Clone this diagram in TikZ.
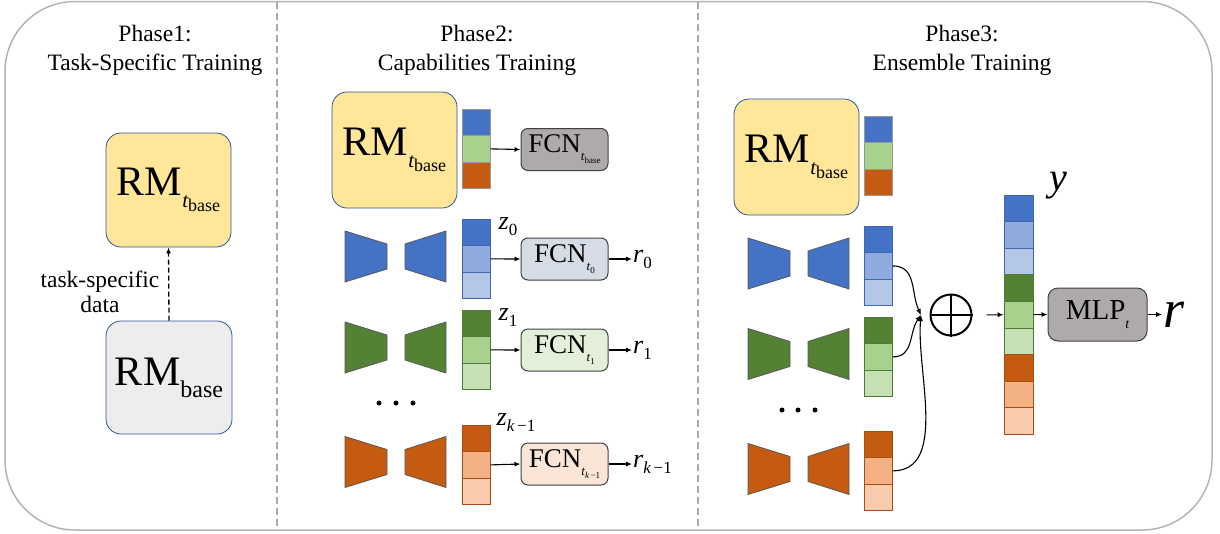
\documentclass[tikz,border=0pt]{standalone}
\usepackage{fontspec}
\setmainfont{LiberationSerif-Regular.ttf}[BoldFont=LiberationSerif-Bold.ttf, ItalicFont=LiberationSerif-Italic.ttf, BoldItalicFont=LiberationSerif-BoldItalic.ttf]
\usetikzlibrary{arrows.meta}
\definecolor{rmyel}{HTML}{FFE699}
\definecolor{rmgray}{HTML}{EDEDED}
\definecolor{rmbord}{HTML}{2F5597}
\definecolor{fcngray}{HTML}{AEAAAA}
\definecolor{fcnblue}{HTML}{D6DCE5}
\definecolor{fcngreen}{HTML}{E2F0D9}
\definecolor{fcnorange}{HTML}{FBE5D6}
\definecolor{bA}{HTML}{4472C4}
\definecolor{bB}{HTML}{8FAADC}
\definecolor{bC}{HTML}{B4C7E7}
\definecolor{gA}{HTML}{548235}
\definecolor{gB}{HTML}{A9D18E}
\definecolor{gC}{HTML}{C5E0B4}
\definecolor{oA}{HTML}{C55A11}
\definecolor{oB}{HTML}{F4B183}
\definecolor{oC}{HTML}{F8CBAD}
\definecolor{bBord}{HTML}{3F66B0}
\definecolor{gBord}{HTML}{4F7A33}
\definecolor{oBord}{HTML}{A84E14}
\definecolor{frame}{HTML}{B4B4B4}
\definecolor{divgray}{HTML}{AAAAAA}

\newcommand\rmtb{\fontsize{42}{42}\selectfont RM\raisebox{-12pt}{\fontsize{21}{21}\selectfont\itshape t}\raisebox{-16pt}{\fontsize{18}{18}\selectfont base}}
\newcommand\rmb{\fontsize{42}{42}\selectfont RM\raisebox{-12pt}{\fontsize{24}{24}\selectfont base}}
\newcommand\fcnlab[1]{\fontsize{27}{27}\selectfont FCN\raisebox{-8pt}{\fontsize{13}{13}\selectfont\itshape t}\raisebox{-11pt}{\fontsize{9}{9}\selectfont #1}}
\newcommand\varsub[2]{\fontsize{26}{26}\selectfont\itshape #1\raisebox{-6pt}{\fontsize{17}{17}\selectfont\upshape #2}}

\newcommand\encdec[3]{%
 \filldraw[trap, fill=#3] (#1,{#2-25.5}) -- ({#1+42},{#2-12.5}) -- ({#1+42},{#2+12.5}) -- (#1,{#2+25.5}) -- cycle;
 \filldraw[trap, fill=#3] ({#1+60},{#2-12.5}) -- ({#1+101},{#2-25.5}) -- ({#1+101},{#2+25.5}) -- ({#1+60},{#2+12.5}) -- cycle;}

\newcommand\vbar[7]{%
 \node[cell, draw=#7, fill=#4] (#1a) at (#2,{#3+13.3}) {};
 \node[cell, draw=#7, fill=#5] (#1b) at (#2,{#3+39.9}) {};
 \node[cell, draw=#7, fill=#6] (#1c) at (#2,{#3+66.5}) {};}

\begin{document}
\begin{tikzpicture}[x=1pt,y=-1pt,
  rmbox/.style={draw=rmbord, line width=0.8pt, rounded corners=15pt, minimum width=125pt, minimum height=115pt, inner sep=0pt},
  fcnbox/.style={draw=black!75, line width=1pt, rounded corners=7pt, minimum width=87pt, minimum height=42pt, inner sep=0pt},
  cell/.style={line width=1pt, minimum width=28pt, minimum height=26.6pt, inner sep=0pt},
  trap/.style={draw=black!65, line width=0.8pt},
  arr/.style={-{Latex[length=6pt,width=5pt]}, line width=1.1pt},
  title/.style={align=center, font=\fontsize{23.5}{29}\selectfont},
  dot/.style={circle, fill=black, minimum size=5pt, inner sep=0pt}]
\useasboundingbox (0,0) rectangle (1220,533);

% frame and dividers
\draw[frame, line width=1.5pt, rounded corners=70pt] (5,1.5) rectangle (1212,530);
\coordinate (dv1t) at (277,2); \coordinate (dv1b) at (277,529);
\coordinate (dv2t) at (698,2); \coordinate (dv2b) at (698,529);
\draw[divgray, line width=1.6pt, dash pattern=on 7pt off 4pt] (dv1t) -- (dv1b);
\draw[divgray, line width=1.6pt, dash pattern=on 7pt off 4pt] (dv2t) -- (dv2b);

% titles
\node[title] (t1) at (155,50) {Phase1:\\Task-Specific Training};
\node[title] (t2) at (477,50) {Phase2:\\Capabilities Training};
\node[title] (t3) at (962,50) {Phase3:\\Ensemble Training};

% Phase 1
\node[rmbox, fill=rmyel, minimum height=114pt] (p1t) at (168.5,190) {\rmtb};
\node[rmbox, fill=rmgray, minimum width=126pt, minimum height=113pt] (p1b) at (169,377.5) {\rmb};
\draw[-{Latex[length=6pt,width=5pt]}, line width=1.3pt, dash pattern=on 5pt off 3pt] (p1b.north) -- (p1t.south);
\node[align=center, font=\fontsize{23.5}{25}\selectfont] (tsd) at (100,292) {task-specific\\data};

% Phase 2
\node[rmbox, fill=rmyel, minimum height=116pt] (p2rm) at (394.5,150) {\rmtb};
\vbar{p2t}{476}{109}{bA}{gB}{oA}{black!40}
\node[fcnbox, fill=fcngray] (f2t) at (564.5,149.5) {\fcnlab{base}};
\draw[arr] (p2tb.east) -- (f2t.west);

\encdec{345}{256.5}{bA}
\vbar{p20}{476}{219}{bA}{bB}{bC}{bBord}
\node[fcnbox, fill=fcnblue] (f20) at (564.5,259) {\fcnlab{0}};
\node[anchor=west, inner sep=1pt] (r20) at (632,259) {\varsub{r}{0}};
\node (z20) at (508,227) {\varsub{z}{0}};
\draw[arr] (p20b.east) -- (f20.west);
\draw[arr] (f20.east) -- (r20.west);

\encdec{345}{347.5}{gA}
\vbar{p21}{476}{310}{gA}{gB}{gC}{gBord}
\node[fcnbox, fill=fcngreen] (f21) at (564.5,350) {\fcnlab{1}};
\node[anchor=west, inner sep=1pt] (r21) at (632,350) {\varsub{r}{1}};
\node (z21) at (508,318) {\varsub{z}{1}};
\draw[arr] (p21b.east) -- (f21.west);
\draw[arr] (f21.east) -- (r21.west);

\node[dot] (d21) at (379,403) {};
\node[dot] (d22) at (396,403) {};
\node[dot] (d23) at (413,403) {};

\encdec{345}{462}{oA}
\vbar{p2k}{476}{425}{oA}{oB}{oC}{oBord}
\node[fcnbox, fill=fcnorange] (f2k) at (564.5,464) {\fcnlab{\itshape k\,\upshape −1}};
\node[anchor=west, inner sep=1pt] (r2k) at (632,464) {\varsub{r}{\itshape k\,\upshape −1}};
\node (z2k) at (516,423) {\varsub{z}{\itshape k\,\upshape −1}};
\draw[arr] (p2kb.east) -- (f2k.west);
\draw[arr] (f2k.east) -- (r2k.west);

% Phase 3
\node[rmbox, fill=rmyel, minimum height=116pt] (p3rm) at (796.5,157) {\rmtb};
\vbar{p3t}{878}{116}{bA}{gB}{oA}{black!40}

\encdec{748}{263.5}{bA}
\vbar{p30}{878}{226}{bA}{bB}{bC}{bBord}
\encdec{748}{354}{gA}
\vbar{p31}{878}{317}{gA}{gB}{gC}{gBord}
\node[dot] (d31) at (782,410) {};
\node[dot] (d32) at (798,410) {};
\node[dot] (d33) at (815,410) {};
\encdec{748}{469}{oA}
\vbar{p3k}{878}{431}{oA}{oB}{oC}{oBord}

\coordinate (join) at (921,315);
\draw[arr] (p30b.east) to[out=0, in=115, looseness=1.1] (join);
\draw[arr] (p31b.east) to[out=0, in=235, looseness=1.1] (join);
\draw[arr] (p3kb.east) to[out=0, in=265, looseness=0.9] (join);

\node[circle, draw=black, line width=2pt, minimum size=41pt, inner sep=0pt] (op) at (951,315) {};
\draw[line width=2pt] (op.north) -- (op.south);
\draw[line width=2pt] (op.west) -- (op.east);

% big vector y
\foreach \c/\d [count=\i] in {bA/bBord,bB/bBord,bC/bBord,gA/gBord,gB/gBord,gC/gBord,oA/oBord,oB/oBord,oC/oBord}
  \node[cell, draw=\d, fill=\c, minimum width=29pt] (y\i) at (1018.5,{195+13.3+26.6*(\i-1)}) {};
\node[anchor=base, inner sep=0pt] (ylab) at (1058,190) {\fontsize{40}{40}\selectfont\itshape y};

\draw[arr, line width=1pt, shorten <=14pt] (op.east) -- (y5.west);
\node[draw=black!75, line width=1pt, rounded corners=10pt, fill=fcngray, minimum width=99pt, minimum height=53pt, inner sep=0pt] (mlp) at (1097.5,314.5)
  {\fontsize{29}{29}\selectfont MLP\raisebox{-9pt}{\fontsize{14}{14}\selectfont\itshape t}};
\draw[arr, line width=1pt] (y5.east) -- (mlp.west);
\node[anchor=base west, inner sep=1pt] (rout) at (1162,327) {\fontsize{54}{54}\selectfont\itshape r};
\draw[arr, line width=1pt] (mlp.east) -- (rout.west |- mlp.east);
\end{tikzpicture}
\end{document}
